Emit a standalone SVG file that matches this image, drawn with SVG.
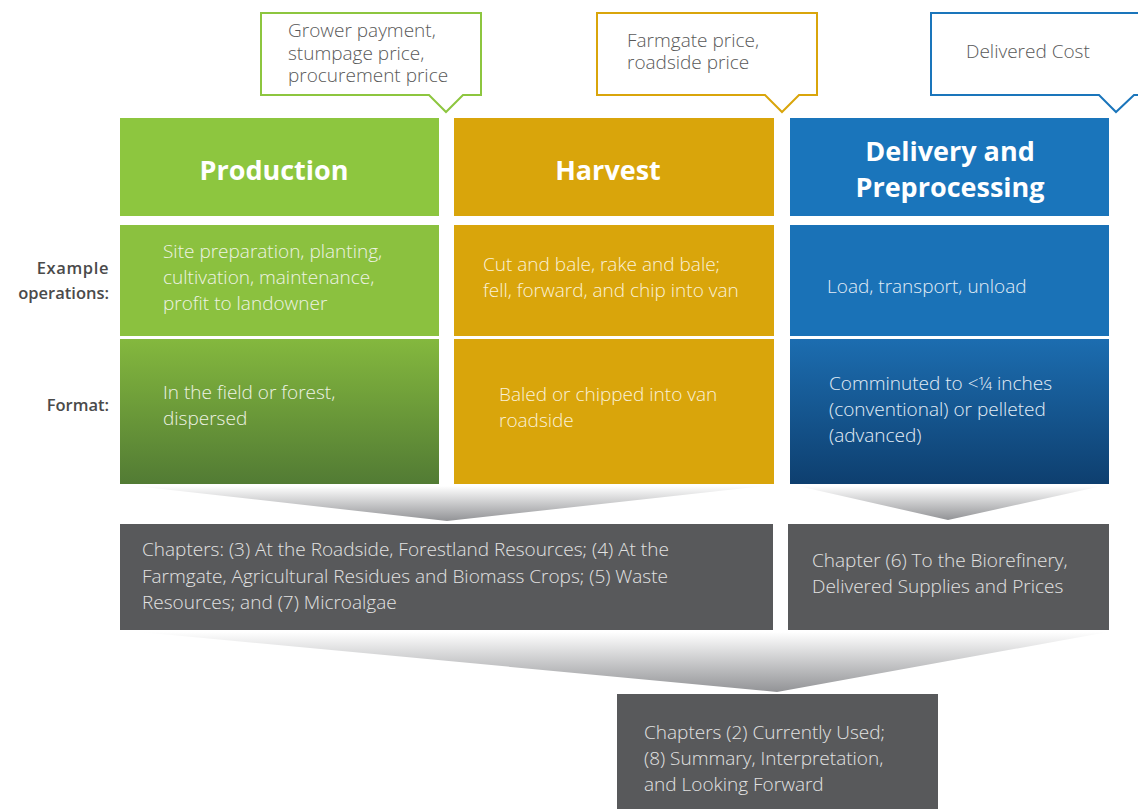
<svg xmlns="http://www.w3.org/2000/svg" width="1138" height="809" viewBox="0 0 1138 809">
<defs>
<linearGradient id="gGreen" x1="0" y1="0" x2="0" y2="1"><stop offset="0" stop-color="#84b83e"/><stop offset="1" stop-color="#527b34"/></linearGradient>
<linearGradient id="gBlue" x1="0" y1="0" x2="0" y2="1"><stop offset="0" stop-color="#1c6db0"/><stop offset="1" stop-color="#0e3f6f"/></linearGradient>
<linearGradient id="gFun" x1="0" y1="0" x2="0" y2="1"><stop offset="0" stop-color="#ffffff"/><stop offset="1" stop-color="#929396"/></linearGradient>
<style>
.call{fill:#fff;stroke-width:2}
.ct{font-family:"Open Sans","Liberation Sans",sans-serif;font-weight:300;font-size:19px;fill:#595959}
.hd{font-family:"Open Sans","Liberation Sans",sans-serif;font-weight:700;font-size:27px;fill:#fff;text-anchor:middle}
.cell{font-family:"Open Sans","Liberation Sans",sans-serif;font-weight:300;font-size:19px;fill:#eef3e4}
.side{font-family:"Open Sans","Liberation Sans",sans-serif;font-weight:600;font-size:16.5px;fill:#4a4a4a;text-anchor:end}
.gb{fill:#58595b}
.gt{font-family:"Open Sans","Liberation Sans",sans-serif;font-weight:300;font-size:19px;fill:#e2e2e2}
</style>
</defs>

<g id="connectors">
<polygon points="135,486 765,486 447,521" fill="url(#gFun)"/>
<polygon points="798,486 1102,486 948,520" fill="url(#gFun)"/>
<polygon points="140,632 1108,632 777,692" fill="url(#gFun)"/>
</g>

<g id="callout-production">
<path class="call" stroke="#8dc63f" d="M261,13 H481 V95 H463 L446,112 L429,95 H261 Z"/>
<text class="ct" x="288" y="37">Grower payment,</text>
<text class="ct" x="288" y="60">stumpage price,</text>
<text class="ct" x="288" y="82">procurement price</text>
</g>
<g id="callout-harvest">
<path class="call" stroke="#d9a50b" d="M597,13 H817 V95 H799 L782,112 L765,95 H597 Z"/>
<text class="ct" x="627" y="47">Farmgate price,</text>
<text class="ct" x="627" y="69">roadside price</text>
</g>
<g id="callout-delivery">
<path class="call" stroke="#1a75bb" d="M1140,95 H1134 L1116,112 L1099,95 H931 V13 H1140"/>
<text class="ct" x="966" y="58">Delivered Cost</text>
</g>

<g id="labels">
<text class="side" x="109" y="274" letter-spacing="0.6">Example</text>
<text class="side" x="109" y="299">operations:</text>
<text class="side" x="109" y="411">Format:</text>
</g>

<g id="production">
<rect x="120" y="118" width="319" height="98" fill="#8dc63f"/>
<text class="hd" x="274" y="180">Production</text>
<rect x="120" y="225" width="319" height="111" fill="#8bc13f"/>
<text class="cell" x="163" y="258">Site preparation, planting,</text>
<text class="cell" x="163" y="284">cultivation, maintenance,</text>
<text class="cell" x="163" y="310">profit to landowner</text>
<rect x="120" y="339" width="319" height="145" fill="url(#gGreen)"/>
<text class="cell" x="163" y="399">In the field or forest,</text>
<text class="cell" x="163" y="425">dispersed</text>
</g>

<g id="harvest">
<rect x="454" y="118" width="320" height="98" fill="#d9a50b"/>
<text class="hd" x="608" y="180">Harvest</text>
<rect x="454" y="225" width="320" height="111" fill="#d9a50b"/>
<text class="cell" x="483" y="271" style="fill:#fbf1d8">Cut and bale, rake and bale;</text>
<text class="cell" x="483" y="297" style="fill:#fbf1d8">fell, forward, and chip into van</text>
<rect x="454" y="339" width="320" height="145" fill="#d9a50b"/>
<text class="cell" x="499" y="401" style="fill:#fbf1d8">Baled or chipped into van</text>
<text class="cell" x="499" y="427" style="fill:#fbf1d8">roadside</text>
</g>

<g id="delivery">
<rect x="790" y="118" width="319" height="98" fill="#1a75bb"/>
<text class="hd" x="950" y="161">Delivery and</text>
<text class="hd" x="950" y="197">Preprocessing</text>
<rect x="790" y="225" width="319" height="111" fill="#1a72b7"/>
<text class="cell" x="827" y="293" style="fill:#e3edf6">Load, transport, unload</text>
<rect x="790" y="339" width="319" height="145" fill="url(#gBlue)"/>
<text class="cell" x="829" y="390" style="fill:#e3edf6">Comminuted to &lt;¼ inches</text>
<text class="cell" x="829" y="416" style="fill:#e3edf6">(conventional) or pelleted</text>
<text class="cell" x="829" y="442" style="fill:#e3edf6">(advanced)</text>
</g>

<g id="chapters-left">
<rect class="gb" x="120" y="524" width="653" height="106"/>
<text class="gt" x="142" y="556">Chapters: (3) At the Roadside, Forestland Resources; (4) At the</text>
<text class="gt" x="142" y="583">Farmgate, Agricultural Residues and Biomass Crops; (5) Waste</text>
<text class="gt" x="142" y="609">Resources; and (7) Microalgae</text>
</g>
<g id="chapters-right">
<rect class="gb" x="788" y="524" width="321" height="106"/>
<text class="gt" x="812" y="567">Chapter (6) To the Biorefinery,</text>
<text class="gt" x="812" y="593">Delivered Supplies and Prices</text>
</g>
<g id="chapters-final">
<rect class="gb" x="617" y="694" width="321" height="115"/>
<text class="gt" x="644" y="739">Chapters (2) Currently Used;</text>
<text class="gt" x="644" y="765">(8) Summary, Interpretation,</text>
<text class="gt" x="644" y="791">and Looking Forward</text>
</g>
</svg>
